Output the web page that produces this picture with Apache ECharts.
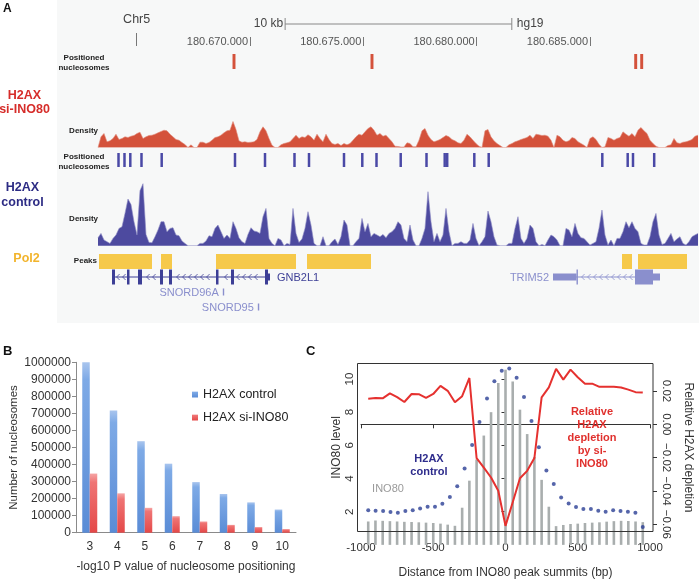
<!DOCTYPE html>
<html><head><meta charset="utf-8">
<script src="https://cdn.jsdelivr.net/npm/echarts@6/dist/echarts.min.js"></script>
<style>html,body{margin:0;padding:0;background:#fff}#c{width:699px;height:581px}</style>
</head><body><div id="c"></div><script>
// ---------------- Panel A data ----------------
const regionStart = 180663294;
const regionEnd = 180689809;
const coordTicks = [180670000, 180675000, 180680000, 180685000];
const chromTick = [180665000];
const chromName = 'Chr5';
const assembly = 'hg19';
const scaleBar = [[180671550, 180681550]];
const redNucleosomes = [180669294, 180675382, 180687016, 180687281];
const blueNucleosomes = [180664199, 180664463, 180664719, 180665213, 180666104, 180669338, 180670662,
  180671963, 180672603, 180674147, 180674954, 180675581, 180676649, 180677787, 180678590, 180678700,
  180679896, 180680531, 180685543, 180686663, 180686897, 180687832];
const pol2Peaks = [[180663338, 180665676], [180666074, 180666559], [180668500, 180672029],
  [180672515, 180675338], [180686412, 180686853], [180687118, 180689280]];
const densityStart = 180663294;
const densityStep = 132.35;
const redDensity = [0,10.7,14,5.7,6.7,9,13.3,8,9,10.7,10,11.3,12,14,15.3,9,10.7,12,12.3,13.3,14.7,16,17.3,16.7,13.3,10.7,8,7.3,5,3,
  0,2.7,0,0,5.3,5.3,4,5,7.3,10,10.7,12.3,14.7,16.7,17.3,26,18,6.7,5.3,5.7,5,5.3,5.7,8,15.7,20.7,16.7,9,2.3,0,
  0,2.7,4,4.7,5.7,9,12.3,9,10.7,10,12.7,10.7,7.3,13.3,9,5.7,13.3,8,4,3,4,2,4,2.7,4,7.3,10.7,13.3,12.3,15.7,
  19,20.7,17.3,12.3,14,11.3,12.3,9,5.7,1.3,1,0.5,0.5,4.7,4,0.7,0.7,7.3,16.7,19,12.3,8,5.7,6.7,8,10,12,10.7,8,6.7,
  4.7,4,7.3,13.3,10.7,7.3,4,1.3,0,16.7,18,10.7,6.7,4,2,0,0,2.7,4,5.7,6.7,8,9,10,12.3,9,13.3,12.7,12,12.3,
  11.3,7.3,0,12.3,10.7,7.3,5.7,6.7,10,9,5.7,4,2.3,0,9,10.7,8,3.3,0,0.7,10,9,7.3,9,10,15.7,13.3,11.3,14,10.7,
  17.3,20,16.7,14,7.3,4,1.3,0,0,0,2,2.7,9,4.7,4,5.3,5.7,6.7,8,11.3,12.3];
const blueDensity = [8,12.3,5.7,4,2.3,7.3,10.7,17.3,19,32.3,46.7,41.3,24,10.7,55,62,11.3,3.3,3,9,15.7,24,24,14,17.3,18,10.7,10,4.7,2.3,
  0,0,0,0,2.3,2.3,4.7,10,9,17.3,20.7,14,7.3,10.7,7.3,24,17.3,8,4,2.3,11.3,18,14.7,14,12.3,29,37.3,7.3,2.3,0,
  7.3,5.7,0,2.3,1.3,37.3,12.3,3.3,6.7,17.3,34,20.7,2.3,0,0,9,0,0,4,6.7,1.3,9,25.7,20.7,0,0,4,7.3,27.3,14,
  22.3,9,12.3,10.7,9,11.3,8,12.3,14,17.3,24,20.7,7.3,4,20.7,5.7,0,0,7.3,17.3,54,24,4,12.3,4,10.7,37.3,14,0,2.3,
  2.3,4,2.3,2.3,5.7,22.3,7.3,0,4,9,34.7,24,9,0.7,0,0,0,2.3,2.3,17.3,29,7.3,2.3,7.3,20.7,17.3,4,0,1.3,0,
  5.7,10.7,9,5.7,0,0,17.3,15.7,9,22.3,12.3,8,7.3,4,0.7,2.3,4,17.3,35.7,10.7,0.7,5.7,0,7.3,7.3,14,24,18,24,17.3,
  14,2.3,0.7,0.7,9,24,32.3,10.7,1.3,2.3,7.3,12.3,4,6.7,9,2.3,0.7,4,9,10.7,12.3];
const geneNames = ['GNB2L1', 'SNORD96A', 'SNORD95', 'TRIM52'];
const geneStart = [180663912, 180668800, 180670345, 180683368];
const geneEnd = [180670882, 180668830, 180670375, 180688088];
const geneRow = [0, 1, 2, 0];
const geneLabelSide = ['right', 'left', 'left', 'left'];
// [gene index, start, end, block type: 2 = coding, 1 = UTR/small]
const geneBlocks = [
  [0,180663912,180664044,2],[0,180664574,180664684,2],[0,180665059,180665235,2],[0,180666029,180666162,2],
  [0,180666426,180666559,2],[0,180668500,180668610,2],[0,180669162,180669294,2],[0,180670662,180670794,2],
  [0,180670794,180670882,1],
  [1,180668800,180668830,1],[2,180670345,180670375,1],
  [3,180683368,180684405,1],[3,180684405,180684449,2],[3,180686985,180687780,2],[3,180687780,180688088,1]
];
// ---------------- Panel B data ----------------
const pCategories = ['3','4','5','6','7','8','9','10'];
const controlCounts = [1003000, 717000, 537000, 405000, 297000, 227000, 178000, 136000];
const siIno80Counts = [347000, 231000, 146000, 97000, 66000, 46000, 33000, 21000];
// ---------------- Panel C data ----------------
const distBins = [-950,-900,-850,-800,-750,-700,-650,-600,-550,-500,-450,-400,-350,-300,-250,-200,-150,-100,-50,0,
  50,100,150,200,250,300,350,400,450,500,550,600,650,700,750,800,850,900,950];
const ino80Level = [1.41,1.47,1.45,1.43,1.41,1.39,1.38,1.36,1.34,1.32,1.28,1.22,1.15,2.24,3.87,5.15,6.59,8.0,9.76,10.56,
  9.85,8.15,6.68,5.3,3.92,2.3,1.13,1.2,1.26,1.28,1.32,1.34,1.36,1.4,1.43,1.45,1.44,1.41,1.37];
const h2axPos = [-950,-899,-847,-796,-745,-693,-642,-591,-539,-488,-437,-385,-334,-283,-231,-180,-128,-77,-26,
  26,77,128,180,231,283,334,385,437,488,539,591,642,693,745,796,847,899,950];
const h2axControl = [2.08,2.06,2.04,1.98,1.94,2.04,2.08,2.2,2.3,2.3,2.48,2.88,3.53,4.61,6.02,7.41,8.83,9.86,10.5,
  10.64,10.08,8.91,7.47,5.88,4.49,3.67,2.86,2.5,2.28,2.16,2.16,2.06,2.0,2.08,2.04,2.0,1.94,1.08];
const depletion = [0.0154,0.0158,0.0156,0.0186,0.0163,0.0134,0.0182,0.0181,0.0159,0.0182,0.0231,0.0201,0.0132,0.0169,0.0278,
  -0.0203,-0.026,-0.0319,-0.0398,-0.0609,-0.0467,-0.0323,-0.0279,-0.0202,0.0162,0.0222,0.0333,0.0268,0.0328,0.0282,
  0.0244,0.0244,0.0225,0.0225,0.0225,0.0221,0.0208,0.0193,0.0191];

// ---------------- helpers ----------------
const FONT = 'Liberation Sans, Arial, Helvetica, sans-serif';
const chart = echarts.init(document.getElementById('c'), null, {renderer: 'canvas'});
const fmtCoord = v => String(v).replace(/\B(?=(\d{3})+(?!\d))/g, '.');
const redDensData = redDensity.map((v, i) => [densityStart + i * densityStep, v]);
const blueDensData = blueDensity.map((v, i) => [densityStart + i * densityStep, v]);

function markRender(color, widthBp) {
  return function (params, api) {
    const c = api.value(0);
    const p0 = api.coord([c - widthBp / 2, 1]);
    const p1 = api.coord([c + widthBp / 2, 0]);
    return {type: 'rect', shape: {x: p0[0], y: p0[1], width: Math.max(p1[0] - p0[0], 1.5), height: p1[1] - p0[1]},
      style: {fill: color}};
  };
}
function peakRender(params, api) {
  const p0 = api.coord([api.value(0), 1]);
  const p1 = api.coord([api.value(1), 0]);
  return {type: 'rect', shape: {x: p0[0], y: p0[1], width: p1[0] - p0[0], height: p1[1] - p0[1]}, style: {fill: '#f6c94a'}};
}
function scaleRender(params, api) {
  const s = api.coord([api.value(0), 0]);
  const e = api.coord([api.value(1), 0]);
  const y = params.coordSys.y + 24;
  const col = '#888';
  const kb = Math.round((api.value(1) - api.value(0)) / 1000) + ' kb';
  return {type: 'group', children: [
    {type: 'line', shape: {x1: s[0], y1: y, x2: e[0], y2: y}, style: {stroke: col, lineWidth: 1}},
    {type: 'line', shape: {x1: s[0], y1: y - 6, x2: s[0], y2: y + 6}, style: {stroke: col, lineWidth: 1}},
    {type: 'line', shape: {x1: e[0], y1: y - 6, x2: e[0], y2: y + 6}, style: {stroke: col, lineWidth: 1}},
    {type: 'text', style: {x: s[0] - 2, y: y, text: kb, align: 'right', verticalAlign: 'middle', font: '12px ' + FONT, fill: '#444'}},
    {type: 'text', style: {x: e[0] + 5, y: y, text: assembly, align: 'left', verticalAlign: 'middle', font: '12px ' + FONT, fill: '#444'}}
  ]};
}
function geneRender(params, api) {
  const g = api.value(0);
  const row = geneRow[g] + 0.5;
  const col = g === 0 ? '#3d3f96' : '#8a8fcd';
  const s = api.coord([geneStart[g], row]);
  const e = api.coord([geneEnd[g], row]);
  const y = s[1];
  const children = [];
  const blocks = geneBlocks.filter(b => b[0] === g);
  if (blocks.length > 1) {
    children.push({type: 'line', shape: {x1: s[0], y1: y, x2: e[0], y2: y}, style: {stroke: col, lineWidth: 1}});
    const px = blocks.map(b => [api.coord([b[1], row])[0], api.coord([b[2], row])[0]]);
    for (let x = s[0] + 6; x < e[0] - 3; x += 6) {
      if (px.some(r => x > r[0] - 3 && x < r[1] + 3)) continue;
      children.push({type: 'polyline', shape: {points: [[x + 1.6, y - 3], [x - 1.4, y], [x + 1.6, y + 3]]},
        style: {stroke: col, lineWidth: 0.8, fill: null}});
    }
  }
  blocks.forEach(b => {
    const a = api.coord([b[1], row])[0];
    const z = api.coord([b[2], row])[0];
    const h = b[3] === 2 ? 15 : 7;
    children.push({type: 'rect', shape: {x: a, y: y - h / 2, width: Math.max(z - a, 1.4), height: h}, style: {fill: col}});
  });
  const left = geneLabelSide[g] === 'left';
  children.push({type: 'text', style: {x: left ? s[0] - 4 : e[0] + 7, y: y + 0.5, text: geneNames[g],
    align: left ? 'right' : 'left', verticalAlign: 'middle', font: '11px ' + FONT, fill: col}});
  return {type: 'group', children};
}

// ---------------- grids ----------------
const aGrid = (top, height) => ({left: 98, width: 601, top, height, containLabel: false});
const grids = [
  aGrid(0, 46),      // 0 coordinate axis
  aGrid(54, 15),     // 1 red nucleosomes
  aGrid(121, 26.5),  // 2 red density
  aGrid(153, 14),    // 3 blue nucleosomes
  aGrid(181.7, 64),  // 4 blue density
  aGrid(254, 15),    // 5 Pol2 peaks
  aGrid(269.5, 45),  // 6 genes
  {left: 76, width: 220, top: 362.3, height: 170.4}, // 7 panel B
  {left: 361, width: 289, top: 363.3, height: 168.4} // 8 panel C
];
const hiddenX = i => ({gridIndex: i, type: 'value', min: regionStart, max: regionEnd, show: false});
const xAxes = [
  {gridIndex: 0, type: 'value', min: regionStart, max: regionEnd, position: 'bottom',
    axisLine: {show: false}, splitLine: {show: false},
    axisTick: {inside: true, length: 9, customValues: coordTicks, lineStyle: {color: '#777'}},
    axisLabel: {inside: true, customValues: coordTicks, formatter: fmtCoord, align: 'right', verticalAlign: 'middle',
      margin: 4, padding: [0, 2, 0, 0], fontSize: 11, color: '#555', fontFamily: FONT}},
  {gridIndex: 0, type: 'value', min: regionStart, max: regionEnd, position: 'bottom',
    axisLine: {show: false}, splitLine: {show: false},
    axisTick: {inside: true, length: 13, customValues: chromTick, lineStyle: {color: '#777'}},
    axisLabel: {inside: true, customValues: chromTick, formatter: () => chromName, align: 'center', verticalAlign: 'middle',
      margin: 26, fontSize: 12.5, color: '#444', fontFamily: FONT}},
  hiddenX(1), hiddenX(2), hiddenX(3), hiddenX(4), hiddenX(5), hiddenX(6),
  {gridIndex: 7, type: 'category', data: pCategories,
    axisLine: {lineStyle: {color: '#8a8a8a'}}, axisTick: {length: 4, lineStyle: {color: '#8a8a8a'}},
    axisLabel: {margin: 8, fontSize: 12, color: '#333', fontFamily: FONT},
    name: '-log10 P value of nucleosome positioning', nameLocation: 'middle', nameGap: 28,
    nameTextStyle: {fontSize: 12, color: '#333', fontFamily: FONT}},
  {gridIndex: 8, type: 'value', min: -1000, max: 1000, interval: 500, offset: 5,
    axisLine: {lineStyle: {color: '#333'}}, axisTick: {length: 4, lineStyle: {color: '#333'}}, splitLine: {show: false},
    axisLabel: {margin: 5, fontSize: 11.5, color: '#333', fontFamily: FONT, formatter: v => String(v)},
    name: 'Distance from INO80 peak summits (bp)', nameLocation: 'middle', nameGap: 30,
    nameTextStyle: {fontSize: 12, color: '#333', fontFamily: FONT}}
];
const hiddenY = (i, min, max, inverse) => ({gridIndex: i, type: 'value', min, max, inverse: !!inverse, show: false});
const yAxes = [
  hiddenY(0, 0, 1), hiddenY(1, 0, 1), hiddenY(2, 0, 26.5), hiddenY(3, 0, 1), hiddenY(4, 0, 64), hiddenY(5, 0, 1),
  hiddenY(6, 0, 3, true),
  {gridIndex: 7, type: 'value', min: 0, max: 1000000, interval: 100000,
    axisLine: {show: true, lineStyle: {color: '#8a8a8a'}}, axisTick: {show: true, length: 4, lineStyle: {color: '#8a8a8a'}},
    splitLine: {show: false}, axisLabel: {fontSize: 12, color: '#333', margin: 5, fontFamily: FONT, formatter: v => String(v)},
    name: 'Number of nucleosomes', nameLocation: 'middle', nameGap: 56,
    nameTextStyle: {fontSize: 11.5, color: '#333', fontFamily: FONT}},
  {gridIndex: 8, type: 'value', min: 0.794, max: 10.946, offset: 4,
    axisLine: {show: false}, splitLine: {show: false},
    axisTick: {show: true, length: 4, customValues: [2, 4, 6, 8, 10], lineStyle: {color: '#333'}},
    axisLabel: {customValues: [2, 4, 6, 8, 10], rotate: 90, margin: 1.5, fontSize: 11.5, color: '#333', fontFamily: FONT},
    name: 'INO80 level', nameLocation: 'middle', nameGap: 14, nameMoveOverlap: false,
    nameTextStyle: {fontSize: 12, color: '#333', fontFamily: FONT}},
  {gridIndex: 8, type: 'value', position: 'right', min: -0.0644, max: 0.0366, offset: 3,
    axisLine: {show: false}, splitLine: {show: false},
    axisTick: {show: true, length: 4, customValues: [-0.06, -0.04, -0.02, 0, 0.02], lineStyle: {color: '#333'}},
    axisLabel: {customValues: [-0.06, -0.04, -0.02, 0, 0.02], rotate: -90, margin: 7, fontSize: 11.5, color: '#333',
      fontFamily: FONT, formatter: v => (v < 0 ? '\u2212' : '') + Math.abs(v).toFixed(2)},
    name: 'Relative H2AX depletion', nameLocation: 'middle', nameGap: 29, nameRotate: -90,
    nameTextStyle: {fontSize: 12, color: '#333', fontFamily: FONT}}
];

const series = [
  {type: 'custom', xAxisIndex: 0, yAxisIndex: 0, renderItem: scaleRender, data: scaleBar, silent: true},
  {type: 'custom', xAxisIndex: 2, yAxisIndex: 1, renderItem: markRender('#d4523b', 130), data: redNucleosomes.map(v => [v])},
  {type: 'line', xAxisIndex: 3, yAxisIndex: 2, data: redDensData, showSymbol: false, symbol: 'none',
    lineStyle: {color: '#e08a78', width: 0.6}, areaStyle: {color: '#d4523b', opacity: 1}},
  {type: 'custom', xAxisIndex: 4, yAxisIndex: 3, renderItem: markRender('#4a49a6', 110), data: blueNucleosomes.map(v => [v])},
  {type: 'line', xAxisIndex: 5, yAxisIndex: 4, data: blueDensData, showSymbol: false, symbol: 'none',
    lineStyle: {color: '#8d8cc4', width: 0.6}, areaStyle: {color: '#4d4a9f', opacity: 1}},
  {type: 'custom', xAxisIndex: 6, yAxisIndex: 5, renderItem: peakRender, data: pol2Peaks},
  {type: 'custom', xAxisIndex: 7, yAxisIndex: 6, renderItem: geneRender, data: geneNames.map((n, i) => [i])},
  {name: 'H2AX control', type: 'bar', xAxisIndex: 8, yAxisIndex: 7, data: controlCounts, barWidth: 7.5, barGap: '0%',
    itemStyle: {color: {type: 'linear', x: 0, y: 0, x2: 0, y2: 1, colorStops: [
      {offset: 0, color: '#a9c5ee'}, {offset: 0.1, color: '#7eaae6'}, {offset: 1, color: '#5a8cd6'}]}}},
  {name: 'H2AX si-INO80', type: 'bar', xAxisIndex: 8, yAxisIndex: 7, data: siIno80Counts, barWidth: 7.5, barGap: '0%',
    itemStyle: {color: {type: 'linear', x: 0, y: 0, x2: 0, y2: 1, colorStops: [
      {offset: 0, color: '#f5a5a5'}, {offset: 0.15, color: '#ef7474'}, {offset: 1, color: '#e44848'}]}}},
  {name: 'INO80', type: 'bar', xAxisIndex: 9, yAxisIndex: 8, data: distBins.map((d, i) => [d, ino80Level[i]]),
    barWidth: 2.6, clip: false, itemStyle: {color: '#a9aeae'}},
  {name: 'H2AX control level', type: 'scatter', xAxisIndex: 9, yAxisIndex: 8, data: h2axPos.map((d, i) => [d, h2axControl[i]]),
    symbolSize: 4, itemStyle: {color: '#2b3f95'}},
  {name: 'depletion', type: 'line', xAxisIndex: 9, yAxisIndex: 9, data: distBins.map((d, i) => [d, depletion[i]]),
    symbol: 'none', lineStyle: {color: '#e5312f', width: 2}}
];

const txt = (x, y, text, font, fill, align) => ({type: 'text', x, y, z: 100,
  style: {text, font: font + ' ' + FONT, fill, align: align || 'left', verticalAlign: 'middle'}});
const graphic = [
  {type: 'rect', shape: {x: 57, y: 0, width: 642, height: 323}, style: {fill: '#f7f8f8'}, z: -10},
  {type: 'rect', shape: {x: 357.5, y: 363.5, width: 295.5, height: 168}, style: {fill: null, stroke: '#333', lineWidth: 1}, z: 50},
  txt(3, 9, 'A', 'bold 12px', '#111'),
  txt(3, 351, 'B', 'bold 13px', '#111'),
  txt(306, 351, 'C', 'bold 13px', '#111'),
  txt(84, 58, 'Positioned', 'bold 8px', '#222', 'center'),
  txt(84, 68, 'nucleosomes', 'bold 8px', '#222', 'center'),
  txt(84, 157, 'Positioned', 'bold 8px', '#222', 'center'),
  txt(84, 167, 'nucleosomes', 'bold 8px', '#222', 'center'),
  txt(98, 131, 'Density', 'bold 8px', '#222', 'right'),
  txt(98, 219, 'Density', 'bold 8px', '#222', 'right'),
  txt(97, 261, 'Peaks', 'bold 8px', '#222', 'right'),
  txt(24.5, 96, 'H2AX', 'bold 12.5px', '#d62d2a', 'center'),
  txt(24.5, 110, 'si-INO80', 'bold 12.5px', '#d62d2a', 'center'),
  txt(22.5, 188, 'H2AX', 'bold 12.5px', '#2c2b84', 'center'),
  txt(22.5, 203, 'control', 'bold 12.5px', '#2c2b84', 'center'),
  txt(26.5, 258.5, 'Pol2', 'bold 12.5px', '#f2b42c', 'center'),
  txt(429, 458.5, 'H2AX', 'bold 11px', '#2e2c8c', 'center'),
  txt(429, 471.5, 'control', 'bold 11px', '#2e2c8c', 'center'),
  txt(388, 489, 'INO80', '11px', '#9a9a9a', 'center'),
  txt(592, 412, 'Relative', 'bold 11px', '#e0302d', 'center'),
  txt(592, 425, 'H2AX', 'bold 11px', '#e0302d', 'center'),
  txt(592, 438, 'depletion', 'bold 11px', '#e0302d', 'center'),
  txt(592, 451, 'by si-', 'bold 11px', '#e0302d', 'center'),
  txt(592, 464, 'INO80', 'bold 11px', '#e0302d', 'center')
];

chart.setOption({
  animation: false,
  backgroundColor: '#ffffff',
  textStyle: {fontFamily: FONT},
  grid: grids,
  xAxis: xAxes,
  yAxis: yAxes,
  series,
  graphic,
  legend: {data: ['H2AX control', 'H2AX si-INO80'], orient: 'vertical', left: 187, top: 383, itemWidth: 6, itemHeight: 6,
    itemGap: 10, icon: 'rect', textStyle: {fontSize: 12.5, color: '#222', fontFamily: FONT}, selectedMode: false}
});
</script></body></html>
